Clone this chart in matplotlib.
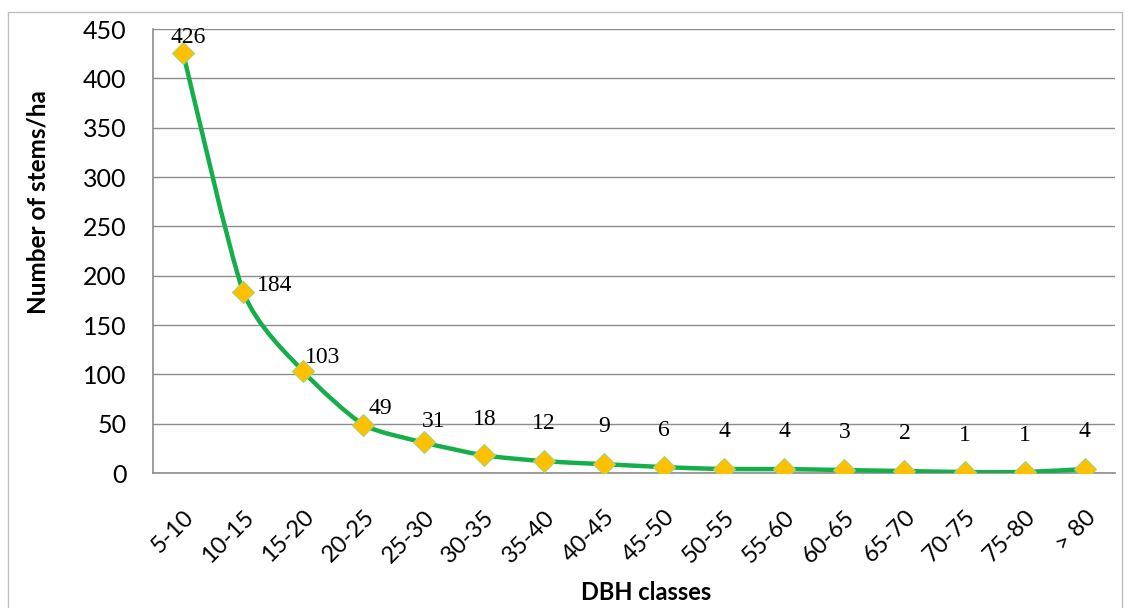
import numpy as np
import matplotlib.pyplot as plt
from matplotlib.path import Path
from matplotlib.patches import PathPatch, Rectangle

# DBH class data
classes = ['5-10', '10-15', '15-20', '20-25', '25-30', '30-35', '35-40', '40-45',
           '45-50', '50-55', '55-60', '60-65', '65-70', '70-75', '75-80', '> 80']
stems = [426, 184, 103, 49, 31, 18, 12, 9, 6, 4, 4, 3, 2, 1, 1, 4]
yticks = [0, 50, 100, 150, 200, 250, 300, 350, 400, 450]

# label offsets in points (style only)
label_offsets = [(4, 11), (23, 4), (14, 10), (12, 12), (7, 15), (1, 26), (0, 27), (0, 27),
                 (0, 26), (0, 27), (0, 27), (0, 27), (0, 27), (0, 26), (0, 26), (0, 27)]

fig = plt.figure(figsize=(11.25, 6.08), dpi=100)
ax = fig.add_axes([0.136, 0.222, 0.855, 0.730])

x = np.arange(len(classes))
y = np.array(stems, dtype=float)

# smoothed line drawn as bezier segments
verts = [(x[0], y[0])]
codes = [Path.MOVETO]
t = 0.11
for i in range(len(x) - 1):
    p0 = (x[i - 1], y[i - 1]) if i > 0 else (x[i], y[i])
    p1 = (x[i], y[i])
    p2 = (x[i + 1], y[i + 1])
    p3 = (x[i + 2], y[i + 2]) if i + 2 < len(x) else (x[i + 1], y[i + 1])
    c1 = (p1[0] + (p2[0] - p0[0]) * t, p1[1] + (p2[1] - p0[1]) * t)
    c2 = (p2[0] - (p3[0] - p1[0]) * t, p2[1] - (p3[1] - p1[1]) * t)
    verts += [c1, c2, p2]
    codes += [Path.CURVE4] * 3
ax.add_patch(PathPatch(Path(verts, codes), facecolor='none', edgecolor='#16AE4A',
                       lw=3.2, zorder=3, capstyle='round', joinstyle='round'))

ax.plot(x, y, linestyle='none', marker='D', markersize=11, markerfacecolor='#FFC000',
        markeredgecolor='#A5D46E', markeredgewidth=0.8, zorder=4)

for xi, yi, (dx, dy) in zip(x, stems, label_offsets):
    ax.annotate(str(yi), (xi, yi), xytext=(dx, dy), textcoords='offset points',
                ha='center', va='center', fontsize=17, family='Liberation Serif',
                color='black', zorder=5)

ax.set_xlim(-0.5, len(classes) - 0.5)
ax.set_ylim(0, 450)
ax.set_yticks(yticks)
ax.set_yticklabels([str(v) for v in yticks], family='Lato', fontsize=18)
ax.set_xticks(x)
ax.set_xticklabels(classes, rotation=45, ha='right', rotation_mode='anchor',
                   fontsize=17, family='Lato')
ax.tick_params(axis='y', length=0, pad=19)
ax.tick_params(axis='x', length=0, pad=24)
ax.grid(axis='y', color='#8C8C8C', lw=1)
ax.set_axisbelow(True)
for side in ['top', 'right']:
    ax.spines[side].set_visible(False)
for side in ['left', 'bottom']:
    ax.spines[side].set_color('#8C8C8C')
    ax.spines[side].set_linewidth(1.2)

fig.text(0.034, 0.668, 'Number of stems/ha', rotation=90, ha='center', va='center',
         fontsize=17.5, fontweight='bold', family='Lato')
fig.text(0.574, 0.026, 'DBH classes', ha='center', va='center',
         fontsize=17, fontweight='bold', family='Lato')

# outer chart frame
fig.patches.append(Rectangle((8 / 1125, -0.1), 1114 / 1125, 1.1 - 12 / 608,
                             transform=fig.transFigure, fill=False,
                             edgecolor='#BFBFBF', lw=1))

fig.savefig('out.png', dpi=100)
